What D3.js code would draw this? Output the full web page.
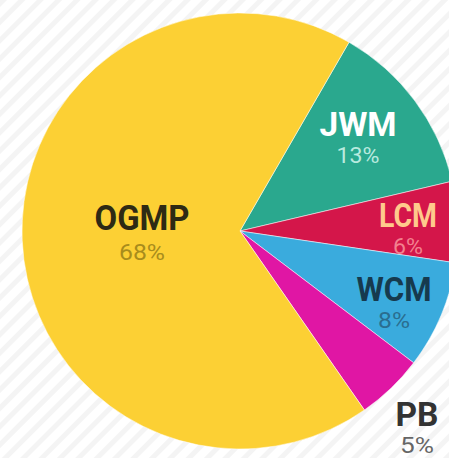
<!DOCTYPE html>
<html>
<head>
<meta charset="utf-8">
<script src="https://cdn.jsdelivr.net/npm/d3@7"></script>
<style>
html,body{margin:0;padding:0;background:#fff;}
svg{display:block;}
</style>
</head>
<body>
<svg id="chart" width="449" height="458"></svg>
<script>
const categories = ["JWM", "LCM", "WCM", "PB", "OGMP"];
const values = [13, 6, 8, 5, 68];
const valueLabels = ["13%", "6%", "8%", "5%", "68%"];
const colors = ["#2aa88e", "#d4164a", "#3aabdd", "#e016a4", "#fcd034"];
const nameColors = ["#ffffff", "#ffc98c", "#163a4e", "#333333", "#2e2a14"];
const pctColors = ["#b8eadf", "#f3808f", "#2a6e90", "#666666", "#a88c1c"];
// label positions (style/layout), relative to pie centre
const labelPos = [[118,-95],[168,-4],[154,70],[177,195],[-98,-1]];
const nameWidths = [77, 58, 75, 43, 95];
const pctWidths = [43, 30, 32, 34, 46];

const W = 449, H = 458, cx = 240, cy = 231, R = 218;
const svg = d3.select("#chart");

// striped background
const defs = svg.append("defs");
const pat = defs.append("pattern").attr("id","stripes").attr("patternUnits","userSpaceOnUse")
  .attr("width",13).attr("height",13).attr("patternTransform","rotate(45)");
pat.append("rect").attr("width",13).attr("height",13).attr("fill","#ffffff");
pat.append("rect").attr("width",5).attr("height",13).attr("fill","#f4f4f4");
svg.append("rect").attr("width",W).attr("height",H).attr("fill","url(#stripes)");

const start = 30 * Math.PI / 180;
const pie = d3.pie().sort(null).value(d => d).startAngle(start).endAngle(start + 2*Math.PI);
const arcs = pie(values);
const arc = d3.arc().innerRadius(0).outerRadius(R);

const g = svg.append("g").attr("transform", `translate(${cx},${cy})`);
g.selectAll("path").data(arcs).join("path")
  .attr("d", arc)
  .attr("fill", (d,i) => colors[i])
  .attr("stroke", "#ffffff")
  .attr("stroke-opacity", 0.5)
  .attr("stroke-width", 1);

const lab = g.selectAll("g.lab").data(arcs).join("g").attr("class","lab")
  .attr("transform", (d,i) => `translate(${labelPos[i][0]},${labelPos[i][1]})`);
lab.append("text")
  .attr("text-anchor","middle")
  .attr("font-family","Roboto, 'Liberation Sans', sans-serif")
  .attr("font-weight","bold")
  .attr("font-size",(d,i)=> i===4 ? 35 : 33)
  .attr("textLength",(d,i)=>nameWidths[i])
  .attr("lengthAdjust","spacingAndGlyphs")
  .attr("fill",(d,i)=>nameColors[i])
  .text((d,i)=>categories[i]);
lab.append("text")
  .attr("text-anchor","middle")
  .attr("y", (d,i)=> i===4 ? 30 : 27)
  .attr("font-family","Roboto, 'Liberation Sans', sans-serif")
  .attr("font-size",22)
  .attr("textLength",(d,i)=>pctWidths[i])
  .attr("lengthAdjust","spacingAndGlyphs")
  .attr("fill",(d,i)=>pctColors[i])
  .text((d,i)=>valueLabels[i]);
</script>
</body>
</html>
